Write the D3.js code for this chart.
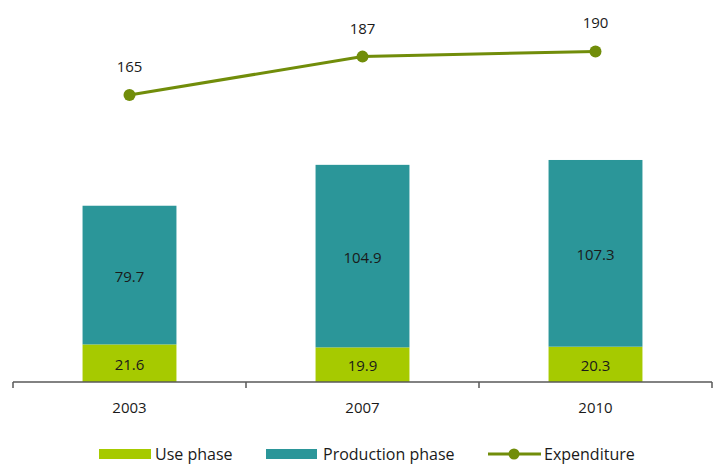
<!DOCTYPE html>
<html><head><meta charset="utf-8">
<script src="https://cdn.jsdelivr.net/npm/d3@7"></script>
<style>body{margin:0;background:#fff}svg{display:block}text{font-family:"Open Sans",sans-serif}</style>
</head><body><svg id="c" width="715" height="473"></svg>
<script>
const categories = ["2003", "2007", "2010"];
const usePhase = [21.6, 19.9, 20.3];
const productionPhase = [79.7, 104.9, 107.3];
const expenditure = [165, 187, 190];
const seriesNames = ["Use phase", "Production phase", "Expenditure"];

const colors = {use: "#a6ca00", prod: "#2b9699", line: "#718d0a"};
const svg = d3.select("#c");
const x = d3.scaleBand().domain(categories).range([13, 712]).paddingInner(0.597).paddingOuter(0.2985);
const y = d3.scaleLinear().domain([0, 200]).range([382, 34]);

const data = categories.map((c, i) => ({c, u: usePhase[i], p: productionPhase[i], e: expenditure[i]}));

// bars
const g = svg.append("g");
g.selectAll("rect.u").data(data).join("rect")
  .attr("x", d => x(d.c)).attr("width", x.bandwidth())
  .attr("y", d => y(d.u)).attr("height", d => y(0) - y(d.u)).attr("fill", colors.use);
g.selectAll("rect.p").data(data).join("rect")
  .attr("x", d => x(d.c)).attr("width", x.bandwidth())
  .attr("y", d => y(d.u + d.p)).attr("height", d => y(d.u) - y(d.u + d.p)).attr("fill", colors.prod);

const cx = d => x(d.c) + x.bandwidth() / 2;
g.selectAll("text.u").data(data).join("text")
  .attr("x", cx).attr("y", d => (y(0) + y(d.u)) / 2 + 6.5).attr("text-anchor", "middle")
  .attr("font-size", 15).attr("fill", "#1a1a1a").text(d => d.u.toFixed(1));
g.selectAll("text.p").data(data).join("text")
  .attr("x", cx).attr("y", d => (y(d.u) + y(d.u + d.p)) / 2 + 6.5).attr("text-anchor", "middle")
  .attr("font-size", 15).attr("fill", "#1a1a1a").text(d => d.p.toFixed(1));

// axis
const step = x.step();
const boundaries = [0, 1, 2, 3].map(i => 13 + i * step);
const ax = svg.append("g");
ax.append("line").attr("x1", 13).attr("x2", 712).attr("y1", 382).attr("y2", 382).attr("stroke", "#595959").attr("stroke-width", 1.5);
ax.selectAll("line.t").data(boundaries).join("line")
  .attr("x1", d => d).attr("x2", d => d).attr("y1", 382).attr("y2", 388).attr("stroke", "#595959").attr("stroke-width", 1.5);
ax.selectAll("text").data(categories).join("text")
  .attr("x", d => x(d) + x.bandwidth() / 2).attr("y", 413).attr("text-anchor", "middle")
  .attr("font-size", 15).attr("fill", "#1a1a1a").text(d => d);

// line
const line = d3.line().x(cx).y(d => y(d.e));
svg.append("path").datum(data).attr("d", line).attr("fill", "none").attr("stroke", colors.line).attr("stroke-width", 3);
svg.selectAll("circle.e").data(data).join("circle").attr("cx", cx).attr("cy", d => y(d.e)).attr("r", 6).attr("fill", colors.line);
svg.selectAll("text.e").data(data).join("text")
  .attr("x", cx).attr("y", d => y(d.e) - 23).attr("text-anchor", "middle")
  .attr("font-size", 15).attr("fill", "#1a1a1a").text(d => d.e);

// legend
const lg = svg.append("g");
lg.append("rect").attr("x", 99).attr("y", 449).attr("width", 52).attr("height", 10).attr("fill", colors.use);
lg.append("text").attr("x", 155).attr("y", 460).attr("font-size", 16).attr("fill", "#1a1a1a").text(seriesNames[0]);
lg.append("rect").attr("x", 266).attr("y", 449).attr("width", 51).attr("height", 10).attr("fill", colors.prod);
lg.append("text").attr("x", 323).attr("y", 460).attr("font-size", 16).attr("fill", "#1a1a1a").text(seriesNames[1]);
lg.append("line").attr("x1", 488).attr("x2", 541).attr("y1", 454).attr("y2", 454).attr("stroke", colors.line).attr("stroke-width", 3);
lg.append("circle").attr("cx", 514).attr("cy", 454).attr("r", 5.5).attr("fill", colors.line);
lg.append("text").attr("x", 544).attr("y", 460).attr("font-size", 16).attr("fill", "#1a1a1a").text(seriesNames[2]);
</script></body></html>
